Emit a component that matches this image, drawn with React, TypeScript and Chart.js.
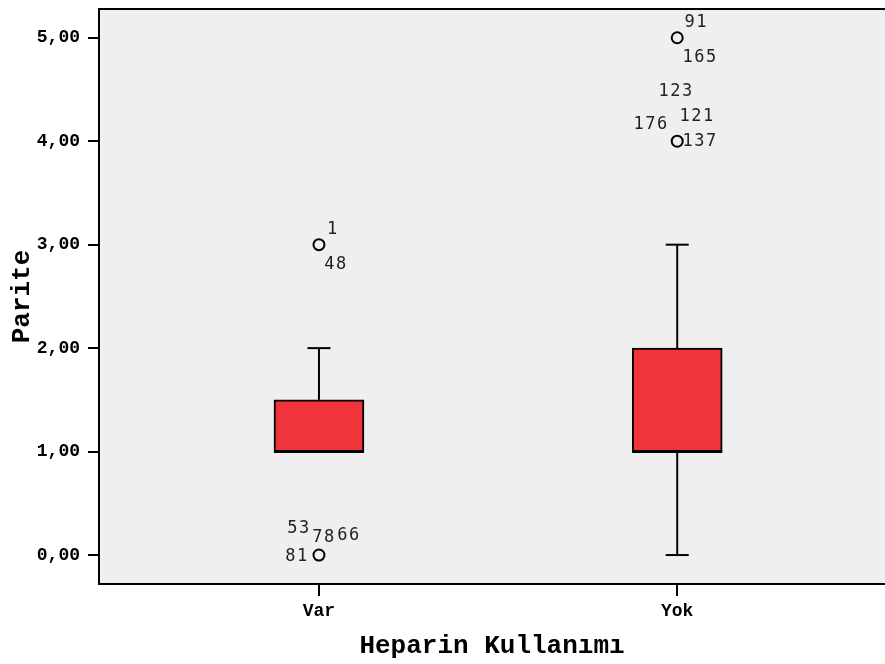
import React, { useEffect, useRef } from 'react';
import { Chart, registerables } from 'chart.js';

Chart.register(...registerables);

// ---- data ----
const categories = ['Var', 'Yok'];
const q1 = [1, 1];
const median = [1, 1];
const q3 = [1.5, 2];
const whiskerLow = [1, 0];
const whiskerHigh = [2, 3];
const outlierCategory = [0, 0, 1, 1];
const outlierValue = [3, 0, 5, 4];
const outlierCases = [
  ['1', '48'],
  ['53', '78', '66', '81'],
  ['91', '165'],
  ['123', '121', '176', '137'],
];
const yTicks = [0, 1, 2, 3, 4, 5];

// ---- style: label offsets (px) from each outlier marker ----
const caseLabelOffsets = [
  [[14, -15], [17, 20]],
  [[-20, -26], [5, -17], [30, -19], [-22, 2]],
  [[19, -15], [23, 20]],
  [[-1, -50], [20, -25], [-26, -17], [23, 0]],
];

const MONO = '"Liberation Mono", "Courier New", monospace';

const boxExtras = {
  id: 'boxExtras',
  beforeDraw(chart: any) {
    const { ctx, chartArea } = chart;
    ctx.save();
    ctx.fillStyle = '#efefef';
    ctx.fillRect(chartArea.left, chartArea.top, chartArea.right - chartArea.left, chartArea.bottom - chartArea.top);
    ctx.restore();
  },
  beforeDatasetsDraw(chart: any) {
    const { ctx } = chart;
    const xs = chart.scales.x;
    const ys = chart.scales.y;
    ctx.save();
    ctx.strokeStyle = '#000';
    ctx.lineWidth = 2;
    categories.forEach((_, i) => {
      const cx = xs.getPixelForValue(i + 1);
      const segs: [number, number][] = [
        [q3[i], whiskerHigh[i]],
        [q1[i], whiskerLow[i]],
      ];
      segs.forEach(([from, to]) => {
        if (from === to) return;
        const y0 = ys.getPixelForValue(from);
        const y1 = ys.getPixelForValue(to);
        ctx.beginPath();
        ctx.moveTo(cx, y0);
        ctx.lineTo(cx, y1);
        ctx.stroke();
        ctx.beginPath();
        ctx.moveTo(cx - 11.5, y1);
        ctx.lineTo(cx + 11.5, y1);
        ctx.stroke();
      });
    });
    ctx.restore();
  },
  afterDatasetsDraw(chart: any) {
    const { ctx } = chart;
    const xs = chart.scales.x;
    const ys = chart.scales.y;
    ctx.save();
    ctx.strokeStyle = '#000';
    ctx.lineWidth = 3;
    categories.forEach((_, i) => {
      const cx = xs.getPixelForValue(i + 1);
      const y = ys.getPixelForValue(median[i]);
      ctx.beginPath();
      ctx.moveTo(cx - 45, y);
      ctx.lineTo(cx + 45, y);
      ctx.stroke();
    });
    ctx.restore();
  },
  afterDraw(chart: any) {
    const { ctx, chartArea } = chart;
    const xs = chart.scales.x;
    const ys = chart.scales.y;
    ctx.save();
    ctx.strokeStyle = '#000';
    ctx.lineWidth = 2;
    ctx.beginPath();
    ctx.moveTo(chartArea.left - 1, chartArea.top);
    ctx.lineTo(chartArea.right, chartArea.top);
    ctx.stroke();

    ctx.fillStyle = '#222';
    ctx.font = '17px "DejaVu Sans Mono", monospace';
    try { (ctx as any).letterSpacing = '1.5px'; } catch (e) {}
    ctx.textAlign = 'center';
    ctx.textBaseline = 'middle';
    outlierCases.forEach((labels, k) => {
      const px = xs.getPixelForValue(outlierCategory[k] + 1);
      const py = ys.getPixelForValue(outlierValue[k]);
      labels.forEach((t, j) => {
        const [dx, dy] = caseLabelOffsets[k][j];
        ctx.fillText(t, px + dx, py + dy);
      });
    });
    ctx.restore();
  },
};

export default function App() {
  const ref = useRef<HTMLCanvasElement | null>(null);

  useEffect(() => {
    if (!ref.current) return;
    const chart = new Chart(ref.current, {
      type: 'bar',
      data: {
        datasets: [
          {
            type: 'bar',
            data: categories.map((_, i) => ({ x: i + 1, y: [q1[i], q3[i]] })) as any,
            backgroundColor: '#f0343b',
            borderColor: '#000',
            borderWidth: 2,
            borderSkipped: false,
            barThickness: 90,
            order: 2,
          } as any,
          {
            type: 'scatter',
            data: outlierValue.map((v, k) => ({ x: outlierCategory[k] + 1, y: v })),
            pointRadius: 5.5,
            pointBorderWidth: 2,
            pointBorderColor: '#000',
            pointBackgroundColor: 'rgba(0,0,0,0)',
            pointStyle: 'circle',
            order: 1,
          } as any,
        ],
      },
      options: {
        animation: false,
        responsive: true,
        maintainAspectRatio: false,
        layout: { autoPadding: false, padding: { top: 9, left: 0, right: 0, bottom: 0 } },
        plugins: { legend: { display: false }, tooltip: { enabled: false } },
        scales: {
          x: {
            type: 'linear',
            min: 0.386,
            max: 2.58,
            offset: false,
            afterBuildTicks: (s: any) => {
              s.ticks = categories.map((_, i) => ({ value: i + 1 }));
            },
            afterFit: (s: any) => {
              s.height = 80;
              s.paddingLeft = 0;
              s.paddingRight = 0;
            },
            ticks: {
              autoSkip: false,
              maxRotation: 0,
              padding: 5,
              color: '#000',
              font: { family: MONO, size: 18, weight: 'bold' },
              callback: (v: any) => categories[Number(v) - 1] ?? '',
            },
            grid: { offset: false, drawOnChartArea: false, drawTicks: true, tickLength: 12, lineWidth: 2, color: '#000' },
            border: { display: true, color: '#000', width: 2 },
            title: {
              display: true,
              text: 'Heparin Kullanımı',
              color: '#000',
              font: { family: MONO, size: 26, weight: 'bold', lineHeight: 1.2 },
              padding: { top: 0, bottom: 2 },
            },
          },
          y: {
            type: 'linear',
            min: -0.28,
            max: 5.278,
            afterBuildTicks: (s: any) => {
              s.ticks = yTicks.map((v) => ({ value: v }));
            },
            afterFit: (s: any) => {
              s.width = 99;
              s.paddingTop = 0;
              s.paddingBottom = 0;
            },
            ticks: {
              padding: 8,
              color: '#000',
              font: { family: MONO, size: 18, weight: 'bold' },
              callback: (v: any) => Number(v).toFixed(2).replace('.', ','),
            },
            grid: { drawOnChartArea: false, drawTicks: true, tickLength: 11, lineWidth: 2, color: '#000' },
            border: { display: true, color: '#000', width: 2 },
            title: {
              display: true,
              text: 'Parite',
              color: '#000',
              font: { family: MONO, size: 26, weight: 'bold', lineHeight: 1.2 },
              padding: { top: 7, bottom: 0 },
            },
          },
        },
      },
      plugins: [boxExtras],
    } as any);
    return () => chart.destroy();
  }, []);

  return (
    <div style={{ position: 'absolute', left: 0, top: 0, width: 885, height: 664, background: '#fff' }}>
      <canvas ref={ref} />
    </div>
  );
}
